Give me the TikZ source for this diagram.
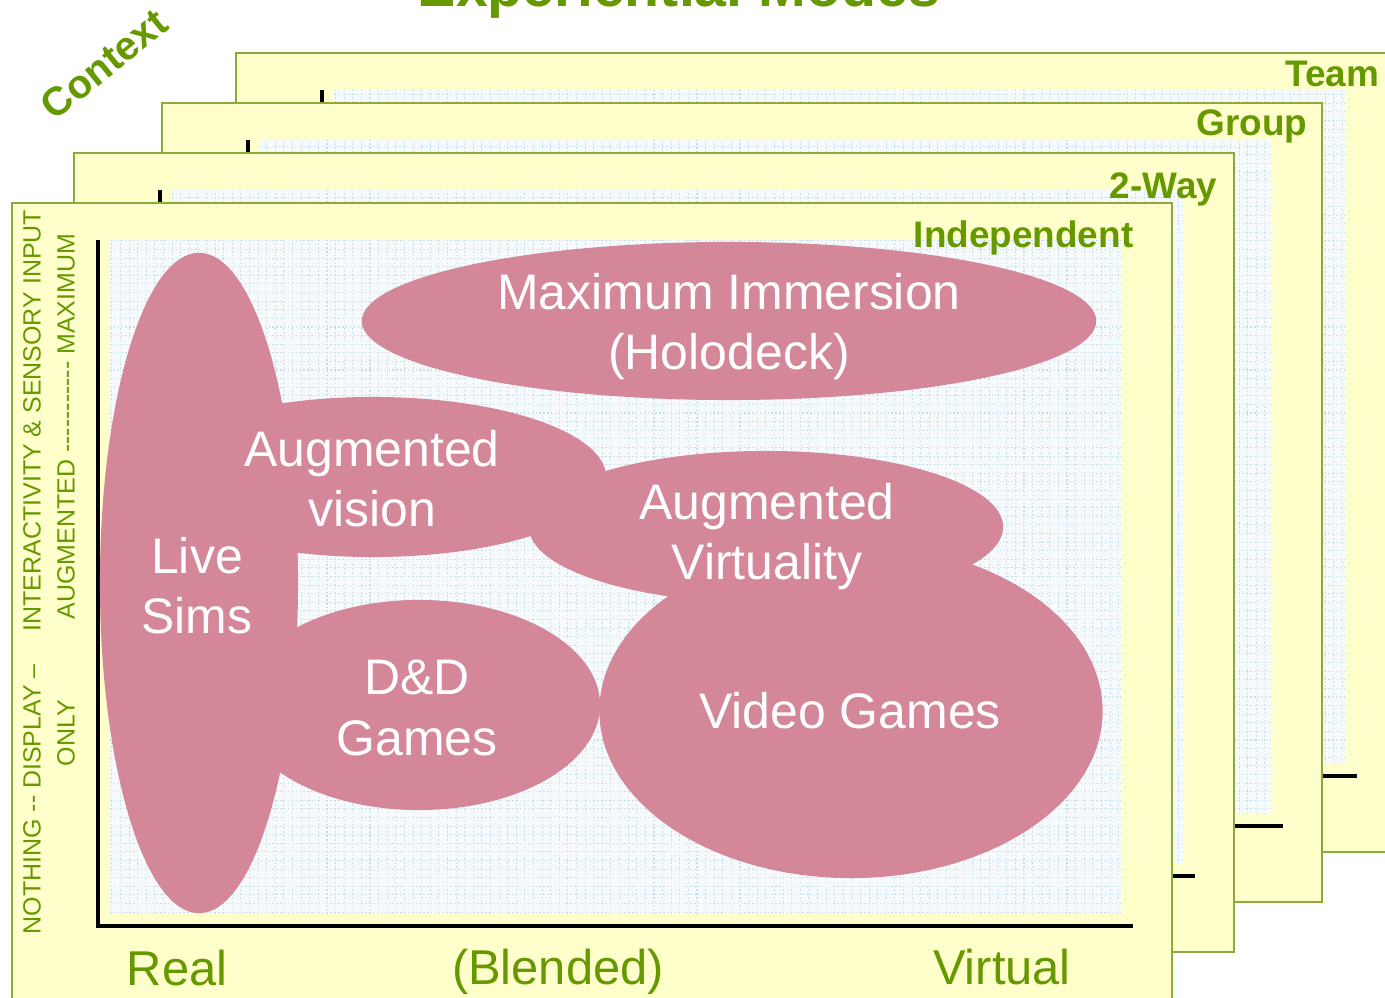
\documentclass[tikz,border=0pt]{standalone}
\usepackage{fontspec}
\setmainfont{Liberation Sans}
\usetikzlibrary{shapes.geometric}

\definecolor{leafgreen}{RGB}{102,153,0}
\definecolor{cardyellow}{RGB}{255,255,204}
\definecolor{cardedge}{RGB}{140,170,60}
\definecolor{gridbg}{RGB}{246,250,252}
\definecolor{gridline}{RGB}{198,220,230}
\definecolor{zonepink}{RGB}{211,135,152}

\tikzset{
	card/.style={fill=cardyellow, draw=cardedge, line width=0.6pt},
	gridrule/.style={draw=gridline, line width=0.3pt, dash pattern=on 0.4pt off 0.7pt, step=0.086cm},
	axis/.style={draw=black, line width=1.2pt},
	zone/.style={ellipse, fill=zonepink, inner sep=0pt},
	zonetext/.style={text=white, inner sep=0pt, align=center, font=\fontsize{14.2}{17.1}\selectfont},
	modename/.style={text=leafgreen, font=\bfseries\fontsize{10.5}{12}\selectfont, anchor=base east, inner sep=0pt},
	scalename/.style={text=leafgreen, font=\fontsize{13.9}{16}\selectfont, anchor=base, inner sep=0pt},
	levelname/.style={text=leafgreen, font=\fontsize{7.1}{8}\selectfont, rotate=90, anchor=west, inner sep=0pt},
}

% one card of the stack: frame, grid paper and the two axes
\def\modecard(#1,#2){
	\draw[card] (#1,#2) rectangle (#1+1160,#2+799);
	\fill[gridbg] (#1+98,#2+37) rectangle (#1+1110,#2+711);
	\draw[gridrule] (#1+98,#2+37) grid (#1+1110,#2+711);
	\draw[axis] (#1+86,#2+37) -- (#1+86,#2+723) -- (#1+1121,#2+723);
}

\begin{document}
\begin{tikzpicture}[x=0.01cm, y=-0.01cm]
		%%%%% START %%%%%
		\useasboundingbox (0,0) rectangle (1385,998);
		\clip (0,0) rectangle (1385,998);
		
		\node[text=leafgreen, font=\bfseries\fontsize{16.3}{18}\selectfont, anchor=base, inner sep=0pt] (title) at (679,7) {Experiential Modes};
		\node[text=leafgreen, font=\bfseries\fontsize{11.4}{13}\selectfont, rotate=39, inner sep=0pt] (context) at (104,64) {Context};
		
		% stack of cards, back to front
		\modecard(236,53)
		\modecard(162,103)
		\modecard(74,153)
		\modecard(12,203)
		
		\node[modename] (team) at (1380,87) {Team};
		\node[modename] (group) at (1308,136) {Group};
		\node[modename] (twoway) at (1218,199) {2-Way};
		\node[modename] (indep) at (1134,248) {Independent};
		
		% experience zones
		\node[zone, minimum width=1.98cm, minimum height=6.6cm] (live) at (199,583) {};
		\node[zone, minimum width=7.34cm, minimum height=1.58cm] (holo) at (729,321) {};
		\node[zone, minimum width=4.66cm, minimum height=1.6cm] (augvis) at (373,477) {};
		\node[zone, minimum width=3.62cm, minimum height=2.1cm] (dnd) at (419,705) {};
		\node[zone, minimum width=5.03cm, minimum height=3.34cm] (video) at (851,711) {};
		\node[zone, minimum width=4.74cm, minimum height=1.52cm] (augvir) at (766,527) {};
		
		\node[zonetext] (livetext) at (197,586) {Live\\Sims};
		\node[zonetext] (holotext) at (729,327) {Maximum Immersion\\(Holodeck)};
		\node[zonetext] (augvistext) at (372,479) {Augmented\\vision};
		\node[zonetext] (dndtext) at (417,708) {D\&D\\Games};
		\node[zonetext] (videotext) at (850,711) {Video Games};
		\node[zonetext] (augvirtext) at (767,537) {Augmented\\Virtuality};
		
		% axis captions
		\node[scalename] (real) at (177,985) {Real};
		\node[scalename] (blended) at (558,984) {(Blended)};
		\node[scalename] (virtual) at (1002,984) {Virtual};
		
		\node[levelname] (nothing) at (32,935) {NOTHING -{}- DISPLAY --};
		\node[levelname] (interact) at (32,632) {INTERACTIVITY \& SENSORY INPUT};
		\node[levelname] (only) at (66,767) {ONLY};
		\node[levelname] (augmax) at (66,620) {AUGMENTED -{}-{}-{}-{}-{}-{}-{}-{}-{}-{}- MAXIMUM};
		
		%%%%% END %%%%%
\end{tikzpicture}
\end{document}
